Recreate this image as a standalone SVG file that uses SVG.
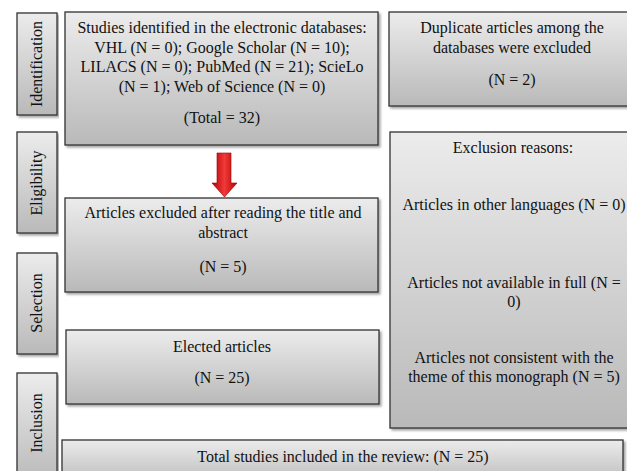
<svg xmlns="http://www.w3.org/2000/svg" width="627" height="471" viewBox="0 0 627 471">
<defs>
<linearGradient id="g" x1="0" y1="0" x2="0" y2="1">
<stop offset="0" stop-color="#ececec"/>
<stop offset="1" stop-color="#b9b9b9"/>
</linearGradient>
<linearGradient id="red" x1="0" y1="0" x2="1" y2="0">
<stop offset="0" stop-color="#b80000"/>
<stop offset="0.5" stop-color="#f03a3a"/>
<stop offset="1" stop-color="#b80000"/>
</linearGradient>
<filter id="sh" x="-5%" y="-5%" width="110%" height="115%">
<feDropShadow dx="2" dy="2" stdDeviation="1.2" flood-color="#000" flood-opacity="0.35"/>
</filter>
</defs>
<style>
.box{fill:url(#g);stroke:#333;stroke-width:1.3;filter:url(#sh)}
text{font-family:"Liberation Serif","Times New Roman",serif;font-size:16px;fill:#111;text-anchor:middle}
</style>
<g id="side-identification"><rect class="box" x="17" y="13" width="40" height="102"/><text transform="translate(42,64) rotate(-90)">Identification</text></g>
<g id="side-eligibility"><rect class="box" x="17" y="132" width="40" height="101"/><text transform="translate(42,183) rotate(-90)">Eligibility</text></g>
<g id="side-selection"><rect class="box" x="17" y="253" width="40" height="101"/><text transform="translate(42,303) rotate(-90)">Selection</text></g>
<g id="side-inclusion"><rect class="box" x="17" y="373" width="40" height="110"/><text transform="translate(42,423) rotate(-90)">Inclusion</text></g>

<g id="identified"><rect class="box" x="65" y="12" width="313" height="133"/>
<text x="222" y="33">Studies identified in the electronic databases:</text>
<text x="222" y="53">VHL (N = 0); Google Scholar (N = 10);</text>
<text x="222" y="72">LILACS (N = 0); PubMed (N = 21); ScieLo</text>
<text x="222" y="92">(N = 1); Web of Science (N = 0)</text>
<text x="222" y="123">(Total = 32)</text></g>

<g id="duplicates"><rect class="box" x="389" y="12" width="250" height="94"/>
<text x="512" y="33">Duplicate articles among the</text>
<text x="512" y="53">databases were excluded</text>
<text x="512" y="85">(N = 2)</text></g>

<g id="exclusion"><rect class="box" x="390" y="132" width="250" height="296"/>
<text x="513" y="153">Exclusion reasons:</text>
<text x="514" y="210">Articles in other languages (N = 0)</text>
<text x="514" y="288">Articles not available in full (N =</text>
<text x="514" y="307">0)</text>
<text x="514" y="363">Articles not consistent with the</text>
<text x="514" y="382">theme of this monograph (N = 5)</text></g>

<g id="excluded"><rect class="box" x="65" y="198" width="313" height="94"/>
<text x="223" y="218">Articles excluded after reading the title and</text>
<text x="223" y="238">abstract</text>
<text x="223" y="272">(N = 5)</text></g>

<g id="elected"><rect class="box" x="66" y="330" width="313" height="74"/>
<text x="222" y="352">Elected articles</text>
<text x="222" y="383">(N = 25)</text></g>

<g id="total"><rect class="box" x="62" y="440" width="561" height="45"/>
<text x="343" y="462">Total studies included in the review: (N = 25)</text></g>

<g id="connectors">
<path d="M217,153 H231 V183 H237 L224.5,197 L212,183 H217 Z" fill="url(#red)" stroke="#a00000" stroke-width="0.6"/>
</g>
</svg>
